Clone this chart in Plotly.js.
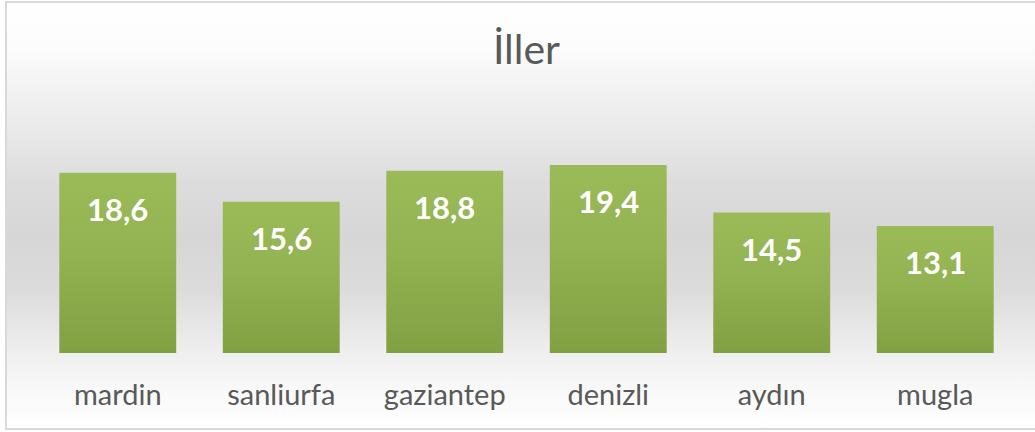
<!DOCTYPE html>
<html>
<head>
<meta charset="utf-8">
<script src="https://cdn.plot.ly/plotly-3.0.1.min.js"></script>
<style>
  html, body { margin: 0; padding: 0; background: #ffffff; }
  #frame {
    position: absolute; left: 5px; top: 1px; width: 1034px; height: 425px;
    border: 2px solid #d9d9d9; border-right: none;
    background: linear-gradient(to bottom, #ffffff 0%, #fcfcfc 10%, #efefef 24%, #dddddd 42%, #d6d6d6 55%, #dcdcdc 68%, #ececec 80%, #f8f8f8 90%, #ffffff 100%);
  }
  #chart { position: absolute; left: 0; top: 0; width: 1035px; height: 432px; }
</style>
</head>
<body>
<div id="frame"></div>
<div id="chart"></div>
<script>
const categories = ["mardin", "sanliurfa", "gaziantep", "denizli", "aydın", "mugla"];
const values = [18.6, 15.6, 18.8, 19.4, 14.5, 13.1];
const chartTitle = "İller";

const trace = {
  type: "bar",
  x: categories,
  y: values,
  marker: { color: "#8fae4c", line: { width: 0 } },
  hoverinfo: "none"
};

const annotations = categories.map((c, i) => ({
  x: c, y: values[i], xref: "x", yref: "y",
  text: values[i].toFixed(1).replace(".", ","),
  showarrow: false, yanchor: "middle", yshift: -36,
  font: { family: "Lato, 'Open Sans', sans-serif", size: 31, color: "#ffffff", weight: "bold" }
}));

const layout = {
  width: 1035, height: 432,
  paper_bgcolor: "rgba(0,0,0,0)",
  plot_bgcolor: "rgba(0,0,0,0)",
  margin: { l: 36, r: 18, t: 110, b: 79 },
  bargap: 0.285,
  showlegend: false,
  title: {
    text: chartTitle, x: 0.5, xref: "paper", y: 0.885, yanchor: "middle",
    font: { family: "Lato, 'Open Sans', sans-serif", size: 41, color: "#595959" }
  },
  xaxis: {
    showline: false, showgrid: false, zeroline: false,
    ticks: "", ticklabelstandoff: 22,
    tickfont: { family: "Lato, 'Open Sans', sans-serif", size: 29, color: "#595959" }
  },
  yaxis: {
    range: [0, 25.08], showticklabels: false, showgrid: false, zeroline: false, showline: false, ticks: ""
  },
  annotations: annotations
};

Plotly.newPlot("chart", [trace], layout, { displayModeBar: false, staticPlot: true }).then(gd => {
  const svg = gd.querySelector("svg.main-svg");
  const ns = "http://www.w3.org/2000/svg";
  let defs = svg.querySelector("defs");
  if (!defs) { defs = document.createElementNS(ns, "defs"); svg.insertBefore(defs, svg.firstChild); }
  const lg = document.createElementNS(ns, "linearGradient");
  lg.setAttribute("id", "barGrad");
  lg.setAttribute("x1", "0"); lg.setAttribute("y1", "0");
  lg.setAttribute("x2", "0"); lg.setAttribute("y2", "1");
  [["0%", "#9bbb59"], ["45%", "#93b352"], ["100%", "#80a042"]].forEach(([o, c]) => {
    const s = document.createElementNS(ns, "stop");
    s.setAttribute("offset", o); s.setAttribute("stop-color", c);
    lg.appendChild(s);
  });
  defs.appendChild(lg);
  gd.querySelectorAll(".bars .point path").forEach(p => { p.style.fill = "url(#barGrad)"; });
});
</script>
</body>
</html>
